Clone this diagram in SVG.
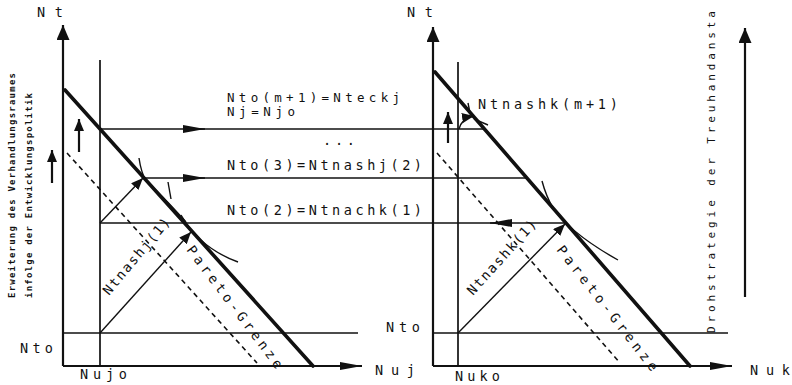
<svg xmlns="http://www.w3.org/2000/svg" width="792" height="385" viewBox="0 0 792 385">
<style>
.t{font-family:"DejaVu Sans Mono","Liberation Mono",monospace;font-size:13.5px;fill:#111}
.n{font-size:12.5px}
.s{font-size:9px;font-weight:bold}
.m{font-size:11px}
.ln{stroke:#111;stroke-width:1.4;fill:none}
.ax{stroke:#111;stroke-width:2.2;fill:none}
.vk{stroke:#111;stroke-width:1.7;fill:none}
.th{stroke:#111;stroke-width:3.6;fill:none;stroke-linecap:round}
.da{stroke:#111;stroke-width:1.6;fill:none;stroke-dasharray:5 4}
</style>
<defs>
<marker id="lg" markerUnits="userSpaceOnUse" markerWidth="22" markerHeight="8" refX="22" refY="4" orient="auto"><path d="M0,0 L22,4 L0,8 z" fill="#111"/></marker>
<marker id="hx" markerUnits="userSpaceOnUse" markerWidth="15" markerHeight="13" refX="15" refY="6.5" orient="auto"><path d="M0,0 L15,6.5 L0,13 z" fill="#111"/></marker>
<marker id="sm" markerUnits="userSpaceOnUse" markerWidth="12" markerHeight="10" refX="12" refY="5" orient="auto"><path d="M0,0 L12,5 L0,10 z" fill="#111"/></marker>
</defs>

<g id="connectors">
  <!-- left diagram axes -->
  <path class="ax" d="M63,366 L63,25" marker-end="url(#hx)"/>
  <path class="ax" d="M63,366 L362,366" marker-end="url(#lg)"/>
  <path class="vk" d="M100,60 L100,366"/>
  <path class="ln" d="M63,333 L358,333"/>
  <path class="th" d="M65,90 L313,366"/>
  <path class="da" d="M67,153 L257,363"/>
  <!-- right diagram axes -->
  <path class="ax" d="M433,366 L433,27" marker-end="url(#hx)"/>
  <path class="ax" d="M433,366 L732,366" marker-end="url(#lg)"/>
  <path class="vk" d="M458,62 L458,366"/>
  <path class="ln" d="M433,333 L728,333"/>
  <path class="th" d="M435,72 L690,366"/>
  <path class="da" d="M437,153 L620,363"/>
  <!-- connecting horizontal lines -->
  <path class="ln" d="M100,129 L484,129"/>
  <path class="ln" d="M183,129 L205,129" marker-end="url(#lg)"/>
  <path class="ln" d="M143,178 L526,178"/>
  <path class="ln" d="M183,178 L205,178" marker-end="url(#lg)"/>
  <path class="ln" d="M100,223 L565,223"/>
  <path class="ln" d="M510,223 L490,223" marker-end="url(#lg)"/>
  <!-- diagonal arrows -->
  <path class="ln" d="M100,223 L143,178" marker-end="url(#sm)"/>
  <path class="ln" d="M100,333 L191,232" marker-end="url(#sm)"/>
  <path class="ln" d="M458,333 L565,224" marker-end="url(#sm)"/>
  <!-- indifference curves -->
  <path class="ln" d="M139,158 Q141,172 146,181 Q160,193 186,222"/>
  <path class="ln" d="M168,182 L171,199"/>
  <path class="ln" d="M181,215 C189,229 205,250 238,262"/>
  <path class="ln" d="M542,181 Q546,196 553,208"/>
  <path class="ln" d="M551,205 Q568,232 618,260"/>
  <path class="ln" d="M468,103 L470,113"/>
  <path class="ln" d="M474,119 Q481,122 488,125"/>
  <path class="ln" d="M459,129 Q462,118 474,116" marker-end="url(#sm)"/>
  <!-- small up arrows -->
  <path class="ax" d="M79,152 L79,119" marker-end="url(#sm)"/>
  <path class="ax" d="M52,183 L52,150" marker-end="url(#sm)"/>
  <path class="ax" d="M448,143 L448,112" marker-end="url(#sm)"/>
  <path class="ax" d="M745,297 L745,28" marker-end="url(#hx)"/>
</g>

<g id="axis-labels">
  <text class="t" x="37" y="17" textLength="26">Nt</text>
  <text class="t" x="407" y="17" textLength="26">Nt</text>
  <text class="t" x="20" y="353" textLength="33">Nto</text>
  <text class="t" x="386" y="332" textLength="34">Nto</text>
  <text class="t" x="80" y="379" textLength="47">Nujo</text>
  <text class="t" x="375" y="375" textLength="40">Nuj</text>
  <text class="t" x="455" y="381" textLength="45">Nuko</text>
  <text class="t" x="750" y="375" textLength="40">Nuk</text>
</g>

<g id="line-labels">
  <text class="t n" x="227" y="102" textLength="173">Nto(m+1)=Nteckj</text>
  <text class="t n" x="227" y="116" textLength="68">Nj=Njo</text>
  <text class="t" x="323" y="145" textLength="32">...</text>
  <text class="t" x="227" y="170" textLength="195">Nto(3)=Ntnashj(2)</text>
  <text class="t" x="227" y="215" textLength="195">Nto(2)=Ntnachk(1)</text>
  <text class="t" x="478" y="109" textLength="140">Ntnashk(m+1)</text>
</g>

<g id="rotated-labels">
  <text class="t" transform="translate(109,296) rotate(-50)" textLength="96">Ntnashj(1)</text>
  <text class="t" transform="translate(186,250) rotate(53)" textLength="150">Pareto-Grenze</text>
  <text class="t" transform="translate(473,296) rotate(-48)" textLength="96">Ntnashk(1)</text>
  <text class="t" transform="translate(556,250) rotate(52)" textLength="155">Pareto-Grenze</text>
</g>

<g id="side-texts">
  <text class="t s" transform="translate(15,298) rotate(-90)" textLength="225">Erweiterung des Verhandlungsraumes</text>
  <text class="t s" transform="translate(32,298) rotate(-90)" textLength="205">infolge der Entwicklungspolitik</text>
  <text class="t m" transform="translate(715,333) rotate(-90)" textLength="322">Drohstrategie der Treuhandansta</text>
</g>
</svg>
